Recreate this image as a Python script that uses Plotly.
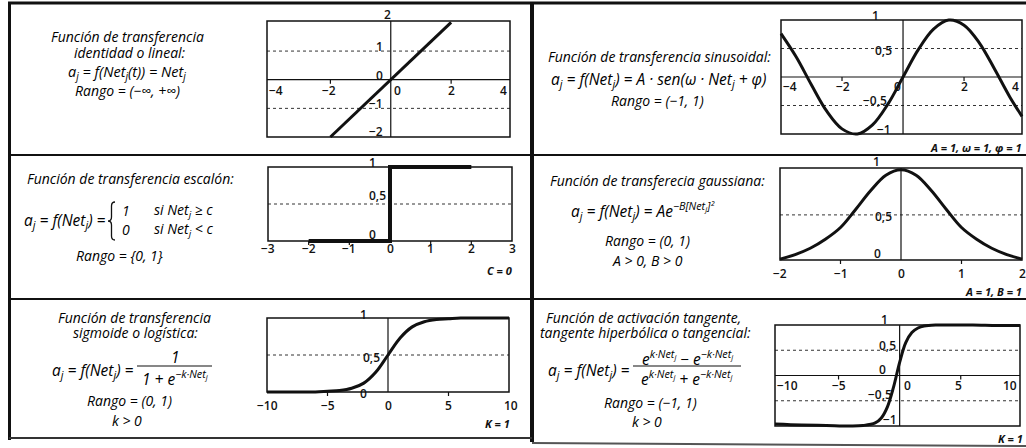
import plotly.graph_objects as go

W, H = 1026, 448

# ---------------- data ----------------
lin_x = [-2, -1, 0, 1, 2]
lin_y = [-2, -1, 0, 1, 2]

sin_x = [-4.0, -3.5, -3.0, -2.5, -2.0, -1.5, -1.0, -0.5, 0.0, 0.5, 1.0, 1.5, 2.0, 2.5, 3.0, 3.5, 3.9]
sin_y = [0.76, 0.35, -0.14, -0.60, -0.91, -1.00, -0.84, -0.48, 0.0, 0.48, 0.84, 1.00, 0.91, 0.60, 0.14, -0.35, -0.69]

step_x = [-2, 0, 0, 2]
step_y = [0, 0, 1, 1]

gau_x = [-2, -1.75, -1.5, -1.25, -1, -0.75, -0.5, -0.25, 0, 0.25, 0.5, 0.75, 1, 1.25, 1.5, 1.75, 2]
gau_y = [0.01, 0.06, 0.13, 0.23, 0.36, 0.56, 0.77, 0.94, 1.0, 0.94, 0.77, 0.56, 0.36, 0.23, 0.13, 0.06, 0.01]

sig_x = [-10, -8, -6, -5, -4, -3, -2, -1, 0, 1, 2, 3, 4, 5, 6, 8, 10]
sig_y = [0.0, 0.0, 0.0, 0.01, 0.02, 0.05, 0.12, 0.27, 0.5, 0.73, 0.88, 0.95, 0.98, 0.99, 1.0, 1.0, 1.0]

tanh_x = [-10.2, -8, -6, -4, -3, -2, -1.5, -1, -0.5, 0, 0.5, 1, 1.5, 2, 3, 4, 6, 8, 9.85]
tanh_y = [-0.96, -0.98, -0.99, -1.0, -0.99, -0.94, -0.84, -0.62, -0.23, 0.26, 0.65, 0.85, 0.94, 0.98, 1.0, 1.0, 1.0, 0.99, 0.99]

# axis extents, dotted levels, tick marks, tick labels
lin_xr, lin_yr = [-4.1, 3.95], [-2.0, 2.05]
lin_dots, lin_ticks = [1, -1], [-2, 2]
lin_xlab = ["−4", "−2", "0", "2", "4"];      lin_xlab_v = [-4.1, -2, 0, 2, 3.95]
lin_ylab = ["2", "1", "0", "−1", "−2"];      lin_ylab_v = [2.05, 1, 0, -1, -2]

sin_xr, sin_yr = [-4.0, 3.9], [-1.0, 1.0]
sin_dots, sin_ticks = [0.5, -0.5], [-2, 2]
sin_xlab = ["−4", "−2", "0", "2", "4"];      sin_xlab_v = [-4.0, -2, 0, 2, 3.9]
sin_ylab = ["1", "0,5", "−0,5", "−1"];       sin_ylab_v = [1, 0.5, -0.5, -1]

step_xr, step_yr = [-3, 3], [0, 1]
step_dots, step_ticks = [0.5], [-2, -1, 1, 2]
step_xlab = ["−3", "−2", "−1", "0", "1", "2", "3"]; step_xlab_v = [-3, -2, -1, 0, 1, 2, 3]
step_ylab = ["1", "0,5", "0"];               step_ylab_v = [1, 0.5, 0]

gau_xr, gau_yr = [-2, 2], [0, 1.02]
gau_dots, gau_ticks = [0.5], [-1, 1]
gau_xlab = ["−2", "−1", "0", "1", "2"];      gau_xlab_v = [-2, -1, 0, 1, 2]
gau_ylab = ["1", "0,5", "0"];                gau_ylab_v = [1.02, 0.5, 0]

sig_xr, sig_yr = [-10, 10], [0, 1]
sig_dots, sig_ticks = [0.5], [-5, 5]
sig_xlab = ["−10", "−5", "0", "5", "10"];    sig_xlab_v = [-10, -5, 0, 5, 10]
sig_ylab = ["1", "0,5", "0"];                sig_ylab_v = [1, 0.5, 0]

tanh_xr, tanh_yr = [-10.2, 9.85], [-1, 1]
tanh_dots, tanh_ticks = [0.5, -0.5], [-5, 5]
tanh_xlab = ["−10", "−5", "0", "5", "10"];   tanh_xlab_v = [-10.2, -5, 0, 5, 9.85]
tanh_ylab = ["1", "0,5", "0", "−0,5", "−1"]; tanh_ylab_v = [1, 0.5, 0, -0.5, -1]

# ---------------- layout helpers ----------------
def PX(x):
    return x / W


def PY(y):
    return 1 - y / H


TICKFONT = dict(family="Open Sans", size=12, color="#111", weight=600)
TXT = dict(family="Open Sans", size=14, color="#000", style="italic")
MATH = dict(family="Open Sans", size=15.5, color="#000", style="italic")
MATH_S = dict(family="Open Sans", size=14.5, color="#000", style="italic")
CASES = dict(family="Open Sans", size=14, color="#000", style="italic")

panels = [
    dict(xs=lin_x, ys=lin_y, lw=3, shape="linear", box=(267, 510, 21, 137), xr=lin_xr, yr=lin_yr,
         dots=lin_dots, ticks=lin_ticks,
         xl=list(zip(lin_xlab, lin_xlab_v, ["left", "center", "left", "center", "right"], [1, -1, 2, 0, -2])), xdy=11,
         yl=list(zip(lin_ylab, lin_ylab_v, ["center", "right", "right", "right", "right"], [-3, -7, -7, -7, -7], [-7, -5, -4, -5, -6]))),
    dict(xs=sin_x, ys=sin_y, lw=3, shape="spline", box=(781, 1022, 20, 134), xr=sin_xr, yr=sin_yr,
         dots=sin_dots, ticks=sin_ticks,
         xl=list(zip(sin_xlab, sin_xlab_v, ["left", "center", "right", "center", "right"], [1, 1, -1, 0, -2])), xdy=9,
         yl=list(zip(sin_ylab, sin_ylab_v, ["right"] * 4, [-23, -10, -15, -11], [-5, 2, -5, -5]))),
    dict(xs=step_x, ys=step_y, lw=4, shape="linear", box=(268, 512, 167, 241), xr=step_xr, yr=step_yr,
         dots=step_dots, ticks=step_ticks,
         xl=list(zip(step_xlab, step_xlab_v, ["center"] * 7, [0] * 7)), xdy=7,
         yl=list(zip(step_ylab, step_ylab_v, ["right"] * 3, [-13, -3, -13], [-5, -9, -7]))),
    dict(xs=gau_x, ys=gau_y, lw=3, shape="spline", box=(780, 1022, 168, 260), xr=gau_xr, yr=gau_yr,
         dots=gau_dots, ticks=gau_ticks,
         xl=list(zip(gau_xlab, gau_xlab_v, ["center"] * 5, [0] * 5)), xdy=13,
         yl=list(zip(gau_ylab, gau_ylab_v, ["right"] * 3, [-20, -8, -19], [-6, 2, -7]))),
    dict(xs=sig_x, ys=sig_y, lw=3, shape="spline", box=(267, 509, 318, 392), xr=sig_xr, yr=sig_yr,
         dots=sig_dots, ticks=sig_ticks,
         xl=list(zip(sig_xlab, sig_xlab_v, ["center"] * 5, [0, 0, 0, 0, 2])), xdy=13,
         yl=list(zip(sig_ylab, sig_ylab_v, ["right"] * 3, [-20, -7, -20], [-4, 2, 1]))),
    dict(xs=tanh_x, ys=tanh_y, lw=3, shape="spline", box=(775, 1020, 325, 426), xr=tanh_xr, yr=tanh_yr,
         dots=tanh_dots, ticks=tanh_ticks,
         xl=list(zip(tanh_xlab, tanh_xlab_v, ["left", "center", "left", "center", "right"], [1, 0, 3, -2, -2])), xdy=10,
         yl=list(zip(tanh_ylab, tanh_ylab_v, ["right"] * 5, [-11, -3, -13, -7, -2], [-6, -5, -6, -6, -7]))),
]

fig = go.Figure()
shapes = []
annotations = []
PAD = 6

for i, p in enumerate(panels, start=1):
    L, R, T, B = p["box"]
    x0, x1 = p["xr"]
    y0, y1 = p["yr"]
    ppx = (R - L) / (x1 - x0)
    ppy = (B - T) / (y1 - y0)
    dl, dr = max(0, L - PAD), min(W, R + PAD)
    dt, db = max(0, T - PAD), min(H, B + PAD)
    xa = "x" if i == 1 else f"x{i}"
    ya = "y" if i == 1 else f"y{i}"
    axkey = "xaxis" if i == 1 else f"xaxis{i}"
    aykey = "yaxis" if i == 1 else f"yaxis{i}"
    fig.update_layout(**{
        axkey: dict(domain=[PX(dl), PX(dr)], range=[x0 - (L - dl) / ppx, x1 + (dr - R) / ppx],
                    visible=False, fixedrange=True, anchor=ya),
        aykey: dict(domain=[PY(db), PY(dt)], range=[y0 - (db - B) / ppy, y1 + (T - dt) / ppy],
                    visible=False, fixedrange=True, anchor=xa),
    })
    fig.add_trace(go.Scatter(x=p["xs"], y=p["ys"], mode="lines", xaxis=xa, yaxis=ya,
                             line=dict(color="#111", width=p["lw"], shape=p["shape"], smoothing=1.0),
                             hoverinfo="skip", showlegend=False))
    for d in p["dots"]:
        shapes.append(dict(type="line", xref=xa, yref=ya, x0=x0, x1=x1, y0=d, y1=d, layer="below",
                           line=dict(color="#333", width=1, dash="dot")))
    xaxis_y = 0 if y0 < 0 < y1 else y0
    if y0 < 0 < y1:
        shapes.append(dict(type="line", xref=xa, yref=ya, x0=x0, x1=x1, y0=0, y1=0,
                           line=dict(color="#111", width=1.2)))
    shapes.append(dict(type="line", xref=xa, yref=ya, x0=0, x1=0, y0=y0, y1=y1,
                       line=dict(color="#111", width=1.2)))
    shapes.append(dict(type="rect", xref=xa, yref=ya, x0=x0, x1=x1, y0=y0, y1=y1,
                       line=dict(color="#111", width=1.5)))
    for t in p["ticks"]:
        shapes.append(dict(type="line", xref=xa, yref=ya, x0=t, x1=t, y0=xaxis_y, y1=xaxis_y - 4 / ppy,
                           line=dict(color="#111", width=1.2)))
    for txt, v, anc, dx in p["xl"]:
        annotations.append(dict(text=txt, x=v, y=xaxis_y, xref=xa, yref=ya, xanchor=anc, yanchor="middle",
                                xshift=dx, yshift=-p["xdy"], showarrow=False, font=TICKFONT, borderpad=0))
    for txt, v, anc, dx, dy in p["yl"]:
        annotations.append(dict(text=txt, x=0, y=v, xref=xa, yref=ya, xanchor=anc, yanchor="middle",
                                xshift=dx, yshift=-dy, showarrow=False, font=TICKFONT, borderpad=0))


def note(text, x, y, font, anchor="center"):
    annotations.append(dict(text=text, x=PX(x), y=PY(y), xref="paper", yref="paper", xanchor=anchor,
                            yanchor="middle", showarrow=False, font=font, borderpad=0))


PARAM = dict(family="Open Sans", size=11, color="#111", weight="bold", style="italic")
note("A = 1, ω = 1, φ = 1", 1023, 147, PARAM, "right")
note("C = 0", 513, 270, PARAM, "right")
note("A = 1, B = 1", 1023, 291, PARAM, "right")
note("K = 1", 511, 423, PARAM, "right")
note("K = 1", 1024, 438, PARAM, "right")

# ---- text of the cells ----
note("Función de transferencia", 127, 37, TXT)
note("identidad o lineal:", 130, 52, TXT)
note("a<sub>j</sub> = f(Net<sub>j</sub>(t)) = Net<sub>j</sub>", 127, 72, MATH_S)
note("Rango = (−∞, +∞)", 127, 90, TXT)

note("Función de transferencia sinusoidal:", 659, 57, TXT)
note("a<sub>j</sub> = f(Net<sub>j</sub>) = A · sen(ω · Net<sub>j</sub> + φ)", 658, 79, MATH)
note("Rango = (−1, 1)", 657, 100, TXT)

note("Función de transferencia escalón:", 130, 178, TXT)
note("a<sub>j</sub> = f(Net<sub>j</sub>) =", 107, 220, MATH, "right")
note("1", 121, 211, CASES, "left")
note("0", 121, 230, CASES, "left")
note("si Net<sub>j</sub> ≥ c", 153, 211, CASES, "left")
note("si Net<sub>j</sub> < c", 153, 230, CASES, "left")
note("Rango = {0, 1}", 119, 255, TXT)

note("Función de transferecia gaussiana:", 657, 180, TXT)
note("a<sub>j</sub> = f(Net<sub>j</sub>) = Ae<sup>−B[Net<sub>j</sub>]²</sup>", 570, 210, MATH, "left")
note("Rango = (0, 1)", 647, 240, TXT)
note("A > 0, B > 0", 647, 260, TXT)

note("Función de transferencia", 134, 317, TXT)
note("sigmoide o logística:", 135, 332, TXT)
note("a<sub>j</sub> = f(Net<sub>j</sub>) =", 135, 370, MATH, "right")
note("1", 175, 357, MATH)
note("1 + e<sup>−k·Net<sub>j</sub></sup>", 175, 378, MATH)
note("Rango = (0, 1)", 129, 400, TXT)
note("k > 0", 127, 420, TXT)

note("Función de activación tangente,", 643, 317, TXT)
note("tangente hiperbólica o tangencial:", 645, 332, TXT)
note("a<sub>j</sub> = f(Net<sub>j</sub>) =", 631, 370, MATH, "right")
note("e<sup>k·Net<sub>j</sub></sup> − e<sup>−k·Net<sub>j</sub></sup>", 687, 358, MATH)
note("e<sup>k·Net<sub>j</sub></sup> + e<sup>−k·Net<sub>j</sub></sup>", 687, 378, MATH)
note("Rango = (−1, 1)", 650, 402, TXT)
note("k > 0", 647, 421, TXT)


def pline(xa, ya, xb, yb, w, color="#111"):
    shapes.append(dict(type="line", xref="paper", yref="paper", x0=PX(xa), y0=PY(ya), x1=PX(xb), y1=PY(yb),
                       line=dict(color=color, width=w)))


pline(137, 366, 212, 366, 1.2)
pline(633, 366, 741, 366, 1.2)


def P(x, y):
    return f"{PX(x):.5f},{PY(y):.5f}"


brace = ("M " + P(115, 202) + " Q " + P(111.5, 202) + " " + P(111.5, 206) + " L " + P(111.5, 217) +
         " Q " + P(111.5, 221) + " " + P(108, 221) + " Q " + P(111.5, 221) + " " + P(111.5, 225) +
         " L " + P(111.5, 236) + " Q " + P(111.5, 240) + " " + P(115, 240))
shapes.append(dict(type="path", xref="paper", yref="paper", path=brace, line=dict(color="#111", width=1.3)))

pline(8, 3, 1026, 3, 3)
pline(9.5, 2, 9.5, 440, 3)
pline(532, 2, 532, 442, 4)
pline(9, 155, 1026, 155, 1.8)
pline(9, 299, 1026, 299, 1.8)
pline(9, 438, 532, 438, 2, "#333")
pline(532, 443, 1026, 446, 2, "#555")

fig.update_layout(width=W, height=H, autosize=False, margin=dict(l=0, r=0, t=0, b=0),
                  paper_bgcolor="white", plot_bgcolor="white", showlegend=False,
                  shapes=shapes, annotations=annotations)

fig.write_html("out.html", config={"displayModeBar": False},
               post_script="document.body.style.margin='0';document.body.style.padding='0';"
                           "document.body.style.overflow='hidden';")
